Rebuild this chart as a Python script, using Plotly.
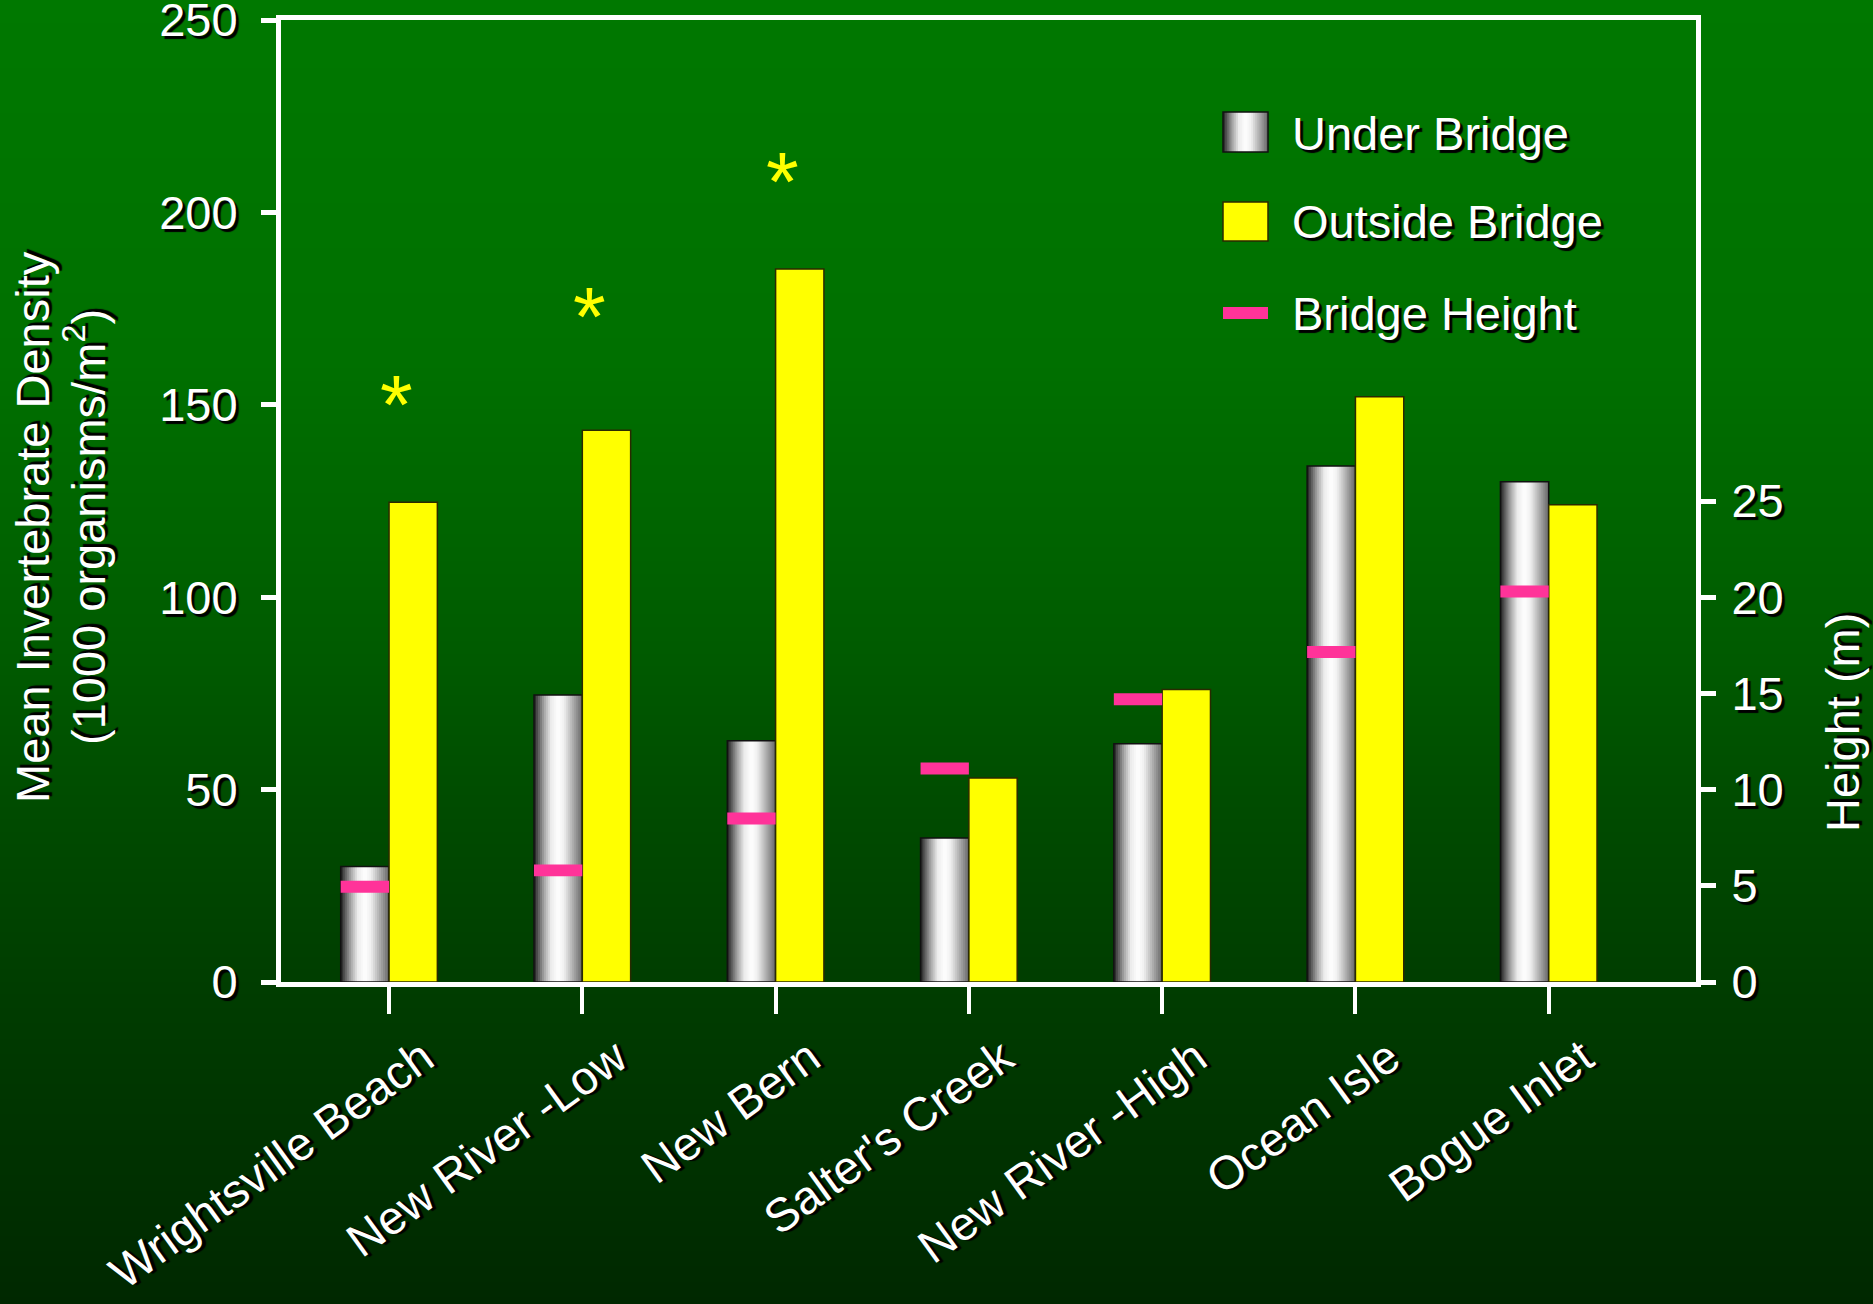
import base64
import struct
import zlib

import plotly.graph_objects as go

# ---- data -------------------------------------------------------------
sites = ["Wrightsville Beach", "New River -Low", "New Bern", "Salter's Creek",
         "New River -High", "Ocean Isle", "Bogue Inlet"]
under_bridge = [30.0, 74.6, 62.7, 37.4, 61.9, 134.1, 130.0]      # 1000 organisms/m2
outside_bridge = [124.7, 143.4, 185.3, 53.0, 76.0, 152.1, 124.0]  # 1000 organisms/m2
bridge_height = [4.95, 5.8, 8.5, 11.1, 14.7, 17.15, 20.3]         # m
star_sites = ["Wrightsville Beach", "New River -Low", "New Bern"]
star_level = [153.0, 176.0, 211.0]

density_ticks = [0, 50, 100, 150, 200, 250]
height_ticks = [0, 5, 10, 15, 20, 25]

# ---- page geometry ----------------------------------------------------
W, H = 1873, 1304
PLOT_L, PLOT_R, PLOT_T, PLOT_B = 281, 1696, 20, 982
FONT = "Liberation Sans, Arial, sans-serif"
SHADOW = "3px 3px 1px #000000"
WHITE = "#FFFFFF"


def px_x(px):
    return (px - PLOT_L) / (PLOT_R - PLOT_L)


def px_y(py):
    return (PLOT_B - py) / (PLOT_B - PLOT_T)


def interp(stops, t):
    for (t0, v0), (t1, v1) in zip(stops, stops[1:]):
        if t <= t1:
            f = 0 if t1 == t0 else (t - t0) / (t1 - t0)
            return round(v0 + f * (v1 - v0))
    return stops[-1][1]


# vertical green backdrop (green channel by page row)
bg_stops = [(0, 120), (90, 118), (360, 112), (500, 102), (660, 90),
            (800, 76), (900, 68), (1000, 60), (1304, 40)]


def gradient_png(width, height):
    raw = bytearray()
    for y in range(height):
        g = interp(bg_stops, y)
        raw += b"\x00" + bytes([0, g, 0]) * width

    def chunk(tag, data):
        return (struct.pack(">I", len(data)) + tag + data +
                struct.pack(">I", zlib.crc32(tag + data) & 0xFFFFFFFF))

    ihdr = struct.pack(">IIBBBBB", width, height, 8, 2, 0, 0, 0)
    png = (b"\x89PNG\r\n\x1a\n" + chunk(b"IHDR", ihdr) +
           chunk(b"IDAT", zlib.compress(bytes(raw), 9)) + chunk(b"IEND", b""))
    return "data:image/png;base64," + base64.b64encode(png).decode()


# cylinder shading across an "under bridge" bar (0 = left edge, 1 = right edge)
shade = [(0.0, 30), (0.08, 85), (0.2, 160), (0.35, 235), (0.5, 255),
         (0.62, 240), (0.76, 190), (0.9, 140), (1.0, 100)]

BAR_W = 0.25      # bar width in category units
SLICES = 24
MARK = 0.62       # thickness of the bridge-height tick, in metres

fig = go.Figure()

# under-bridge bars: overlapping slices, each running to the right edge
for k in range(SLICES):
    v = interp(shade, (k + 0.5) / SLICES)
    fig.add_bar(
        x=sites, y=under_bridge,
        offset=-BAR_W + k * BAR_W / SLICES, width=BAR_W * (1 - k / SLICES),
        marker=dict(color=f"rgb({v},{v},{v})", line=dict(width=0)),
        showlegend=False, hoverinfo="skip",
    )
fig.add_bar(
    x=sites, y=under_bridge, offset=-BAR_W, width=BAR_W,
    marker=dict(color="rgba(0,0,0,0)", line=dict(color="#111111", width=1.5)),
    name="Under Bridge", showlegend=False,
)
fig.add_bar(
    x=sites, y=outside_bridge, offset=0, width=BAR_W,
    marker=dict(color="#FFFF00", line=dict(color="#2A2A00", width=1.5)),
    name="Outside Bridge", showlegend=False,
)
fig.add_bar(
    x=sites, y=[MARK] * len(sites), base=[h - MARK / 2 for h in bridge_height],
    offset=-BAR_W, width=BAR_W, yaxis="y2",
    marker=dict(color="#FF3399", line=dict(width=0)),
    name="Bridge Height", showlegend=False,
)

annotations = []

# significance stars
for s, lvl in zip(star_sites, star_level):
    annotations.append(dict(
        x=s, y=lvl, xref="x", yref="y", text="*", showarrow=False,
        xanchor="center", yanchor="middle", xshift=7, yshift=-12,
        font=dict(family=FONT, size=84, color="#FFFF00"),
    ))

# axis titles
annotations.append(dict(
    x=px_x(32), y=px_y(527), xref="paper", yref="paper",
    text="Mean Invertebrate Density", textangle=-90, showarrow=False,
    xanchor="center", yanchor="middle",
    font=dict(family=FONT, size=47, color=WHITE, shadow=SHADOW),
))
annotations.append(dict(
    x=px_x(85), y=px_y(527), xref="paper", yref="paper",
    text="(1000 organisms/m<sup>2</sup>)", textangle=-90, showarrow=False,
    xanchor="center", yanchor="middle",
    font=dict(family=FONT, size=47, color=WHITE, shadow=SHADOW),
))
annotations.append(dict(
    x=px_x(1842), y=px_y(723), xref="paper", yref="paper",
    text="Height (m)", textangle=-90, showarrow=False,
    xanchor="center", yanchor="middle",
    font=dict(family=FONT, size=47, color=WHITE, shadow=SHADOW),
))

# legend
shapes = []
SW_L, SW_R = 1223, 1268
for k in range(SLICES):
    v = interp(shade, (k + 0.5) / SLICES)
    x0 = SW_L + k * (SW_R - SW_L) / SLICES
    shapes.append(dict(
        type="rect", xref="paper", yref="paper",
        x0=px_x(x0), x1=px_x(SW_R), y0=px_y(152), y1=px_y(112),
        fillcolor=f"rgb({v},{v},{v})", line=dict(width=0),
    ))
shapes.append(dict(
    type="rect", xref="paper", yref="paper",
    x0=px_x(SW_L), x1=px_x(SW_R), y0=px_y(152), y1=px_y(112),
    fillcolor="rgba(0,0,0,0)", line=dict(color="#111111", width=1.5),
))
shapes.append(dict(
    type="rect", xref="paper", yref="paper",
    x0=px_x(SW_L), x1=px_x(SW_R), y0=px_y(241), y1=px_y(202),
    fillcolor="#FFFF00", line=dict(color="#2A2A00", width=1.5),
))
shapes.append(dict(
    type="rect", xref="paper", yref="paper",
    x0=px_x(SW_L), x1=px_x(SW_R), y0=px_y(319), y1=px_y(307),
    fillcolor="#FF3399", line=dict(width=0),
))
for label, cy in [("Under Bridge", 133), ("Outside Bridge", 222),
                  ("Bridge Height", 313)]:
    annotations.append(dict(
        x=px_x(1290), y=px_y(cy), xref="paper", yref="paper",
        text=label, showarrow=False, xanchor="left", yanchor="middle",
        font=dict(family=FONT, size=47, color=WHITE, shadow=SHADOW),
    ))

axis_common = dict(
    showline=True, linecolor=WHITE, linewidth=5, ticks="outside",
    tickcolor=WHITE, showgrid=False, zeroline=False, automargin=False,
    ticklabeloverflow="allow",
    tickfont=dict(family=FONT, size=47, color=WHITE, shadow=SHADOW),
)

fig.update_layout(
    width=W, height=H, autosize=False,
    margin=dict(l=PLOT_L, r=W - PLOT_R, t=PLOT_T, b=H - PLOT_B, pad=0,
                autoexpand=False),
    paper_bgcolor="#003000", plot_bgcolor="rgba(0,0,0,0)",
    barmode="overlay", showlegend=False,
    font=dict(family=FONT, color=WHITE),
    images=[dict(
        source=gradient_png(4, H), xref="paper", yref="paper",
        x=px_x(0), y=px_y(0), sizex=W / (PLOT_R - PLOT_L),
        sizey=H / (PLOT_B - PLOT_T), xanchor="left", yanchor="top",
        sizing="stretch", layer="below",
    )],
    xaxis=dict(
        type="category", range=[-0.559, 6.762], mirror=True,
        ticklen=27, tickwidth=4, tickangle=-36,
        ticklabelstandoff=-2, ticklabelshift=34,
        **axis_common,
    ),
    yaxis=dict(
        range=[0, 250], tickvals=density_ticks, ticklen=15, tickwidth=5,
        ticklabelstandoff=14, **axis_common,
    ),
    yaxis2=dict(
        range=[0, 50], overlaying="y", side="right", tickvals=height_ticks,
        ticklen=15, tickwidth=5, ticklabelstandoff=6, **axis_common,
    ),
    shapes=shapes,
    annotations=annotations,
)

fig.write_html("out.html")
